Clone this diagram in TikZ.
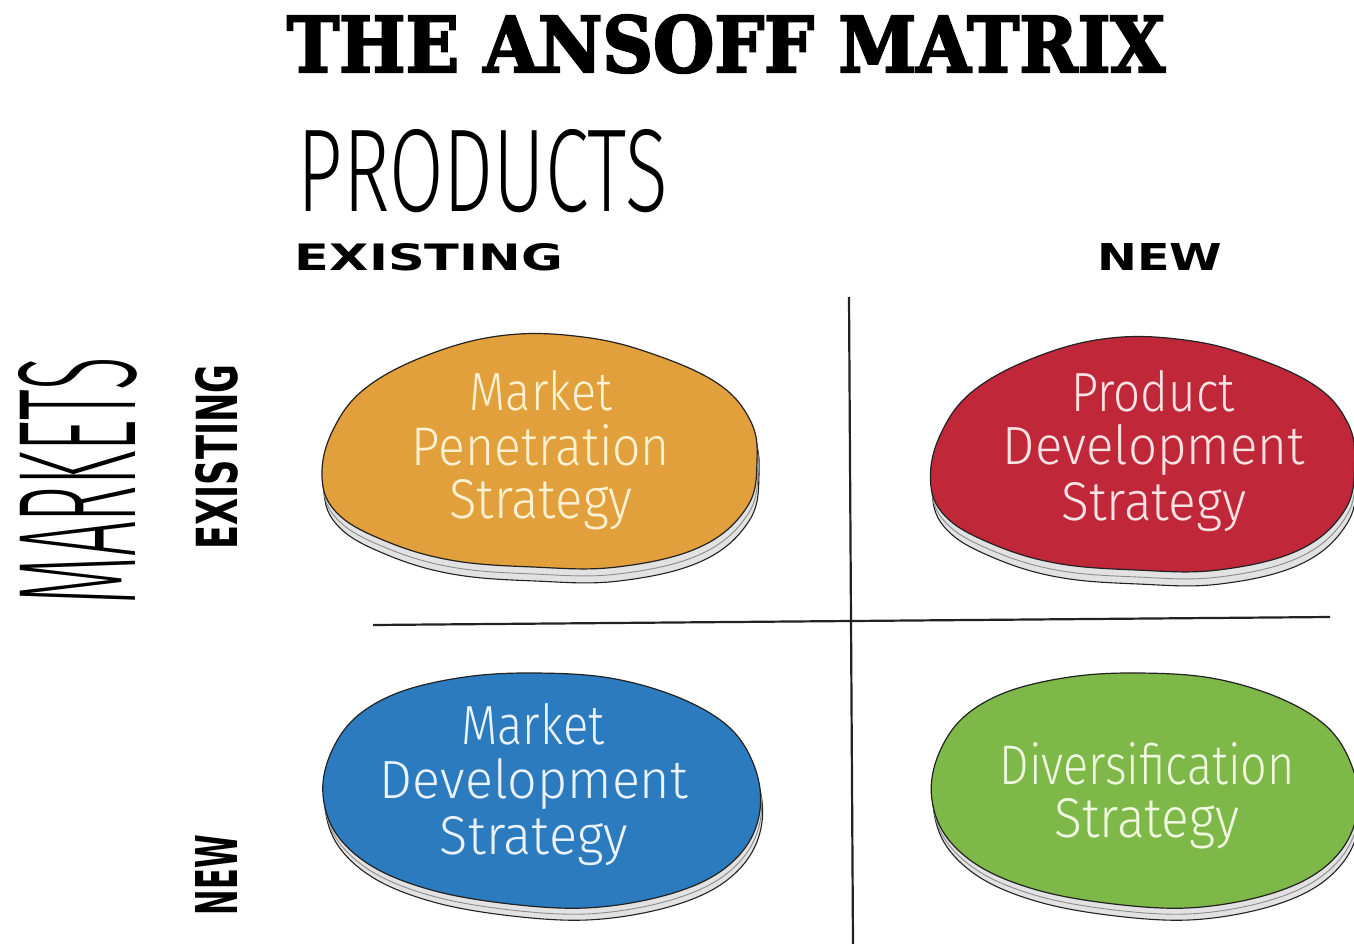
\documentclass[tikz,border=0pt]{standalone}
\usepackage{graphicx}
\usepackage{fontspec}
\setmainfont{DejaVu Sans}
\newfontfamily\titlefont[FakeBold=3]{DejaVu Serif}
\newfontfamily\handfont{Fira Sans Light}
\newfontfamily\axisfont{Fira Sans Light}
\newfontfamily\headfont{DejaVu Sans}

% text squeezed into a given width and height (in pt)
\newcommand{\fitto}[3]{\resizebox{#1pt}{#2pt}{#3}}

\definecolor{inkline}{HTML}{222222}
\definecolor{rimgray}{HTML}{E2E2E2}
\definecolor{rimline}{HTML}{8C8C8C}
\definecolor{orangefill}{HTML}{E2A03C}
\definecolor{redfill}{HTML}{C0283A}
\definecolor{bluefill}{HTML}{2C7BBE}
\definecolor{greenfill}{HTML}{7DB849}
\definecolor{creamtext}{HTML}{FFF2D2}
\definecolor{pinktext}{HTML}{FBE3E3}
\definecolor{bluetext}{HTML}{EAF3FF}
\definecolor{greentext}{HTML}{F0F9DF}

% outline of the upper pads
\newcommand{\padA}{plot[smooth cycle, tension=0.65] coordinates {
  (-218,25) (-207,-22) (-173,-65) (-107,-99) (-33,-117) (43,-115)
  (110,-99) (177,-69) (210,-32) (217,8) (207,55) (160,95)
  (77,115) (-7,115) (-90,108) (-157,88) (-203,61)}}
% outline of the lower pads, rounder
\newcommand{\padB}{plot[smooth cycle, tension=0.6] coordinates {
  (-217,5) (-210,-35) (-185,-72) (-140,-98) (-75,-113) (-7,-117)
  (70,-112) (140,-92) (190,-62) (215,-22) (220,20) (205,58)
  (170,88) (115,108) (45,118) (-30,114) (-105,101) (-165,78) (-203,45)}}

\tikzset{
  rim/.style={fill=rimgray, draw=inkline, line width=1.1pt},
  rimedge/.style={draw=rimline, line width=0.9pt},
  pad/.style={draw=inkline, line width=1.2pt},
  gridline/.style={draw=inkline, line width=2.2pt},
  label/.style={inner sep=0pt, anchor=base},
}

\begin{document}
\begin{tikzpicture}[x=1pt, y=-1pt]
\useasboundingbox (0,0) rectangle (1354,944);
\fill[white] (0,0) rectangle (1354,944);

% headings
\node[label] (title) at (726,72) {\titlefont\bfseries\fitto{878}{57}{THE ANSOFF MATRIX}};
\node[label] (products) at (483,212) {\axisfont\fitto{370}{82}{PRODUCTS}};
\node[label] (pexist) at (429,270) {\headfont\bfseries\fitto{268}{27}{EXISTING}};
\node[label] (pnew) at (1160,270) {\headfont\bfseries\fitto{125}{27}{NEW}};
\node[label, rotate=90] (markets) at (135,481) {\axisfont\fitto{247}{117}{MARKETS}};
\node[label, rotate=90] (mexist) at (237,457) {\headfont\bfseries\fitto{185}{42}{EXISTING}};
\node[label, rotate=90] (mnew) at (237,875) {\headfont\bfseries\fitto{80}{42}{NEW}};

% dividing cross
\coordinate (vtop) at (849,297);
\coordinate (vbot) at (853,944);
\coordinate (hleft) at (373,625);
\coordinate (hright) at (1330,617);
\draw[gridline] (vtop) -- (vbot);
\draw[gridline] (hleft) -- (hright);

% pads: a grey rim below, a second edge on it, the coloured top
\begin{scope}[shift={(540,452)}]
  \begin{scope}[shift={(2,14)}] \path[rim] \padA; \end{scope}
  \begin{scope}[shift={(1,7)}] \path[rimedge] \padA; \end{scope}
  \path[pad, fill=orangefill] \padA;
\end{scope}
\begin{scope}[shift={(1143,455)}, xscale=0.975]
  \begin{scope}[shift={(2,14)}] \path[rim] \padA; \end{scope}
  \begin{scope}[shift={(1,7)}] \path[rimedge] \padA; \end{scope}
  \path[pad, fill=redfill] \padA;
\end{scope}
\begin{scope}[shift={(540,790)}]
  \begin{scope}[shift={(2,12)}] \path[rim] \padB; \end{scope}
  \begin{scope}[shift={(1,6)}] \path[rimedge] \padB; \end{scope}
  \path[pad, fill=bluefill] \padB;
\end{scope}
\begin{scope}[shift={(1143,790)}, xscale=0.975]
  \begin{scope}[shift={(2,12)}] \path[rim] \padB; \end{scope}
  \begin{scope}[shift={(1,6)}] \path[rimedge] \padB; \end{scope}
  \path[pad, fill=greenfill] \padB;
\end{scope}

% pad texts
\begin{scope}[every node/.style={label}]
\node[text=creamtext] (mp1) at (541,410) {\handfont\fitto{142}{40}{Market}};
\node[text=creamtext] (mp2) at (541,465) {\handfont\fitto{258}{41}{Penetration}};
\node[text=creamtext] (mp3) at (541,518) {\handfont\fitto{183}{39}{Strategy}};

\node[text=pinktext] (pd1) at (1153,411) {\handfont\fitto{163}{41}{Product}};
\node[text=pinktext] (pd2) at (1154,464) {\handfont\fitto{302}{40}{Development}};
\node[text=pinktext] (pd3) at (1154,520) {\handfont\fitto{185}{38}{Strategy}};

\node[text=bluetext] (md1) at (533,744) {\handfont\fitto{143}{41}{Market}};
\node[text=bluetext] (md2) at (534,798) {\handfont\fitto{308}{40}{Development}};
\node[text=bluetext] (md3) at (534,854) {\handfont\fitto{188}{38}{Strategy}};

\node[text=greentext] (dv1) at (1147,784) {\handfont\fitto{295}{42}{Diversification}};
\node[text=greentext] (dv2) at (1147,837) {\handfont\fitto{185}{39}{Strategy}};
\end{scope}
\end{tikzpicture}
\end{document}
